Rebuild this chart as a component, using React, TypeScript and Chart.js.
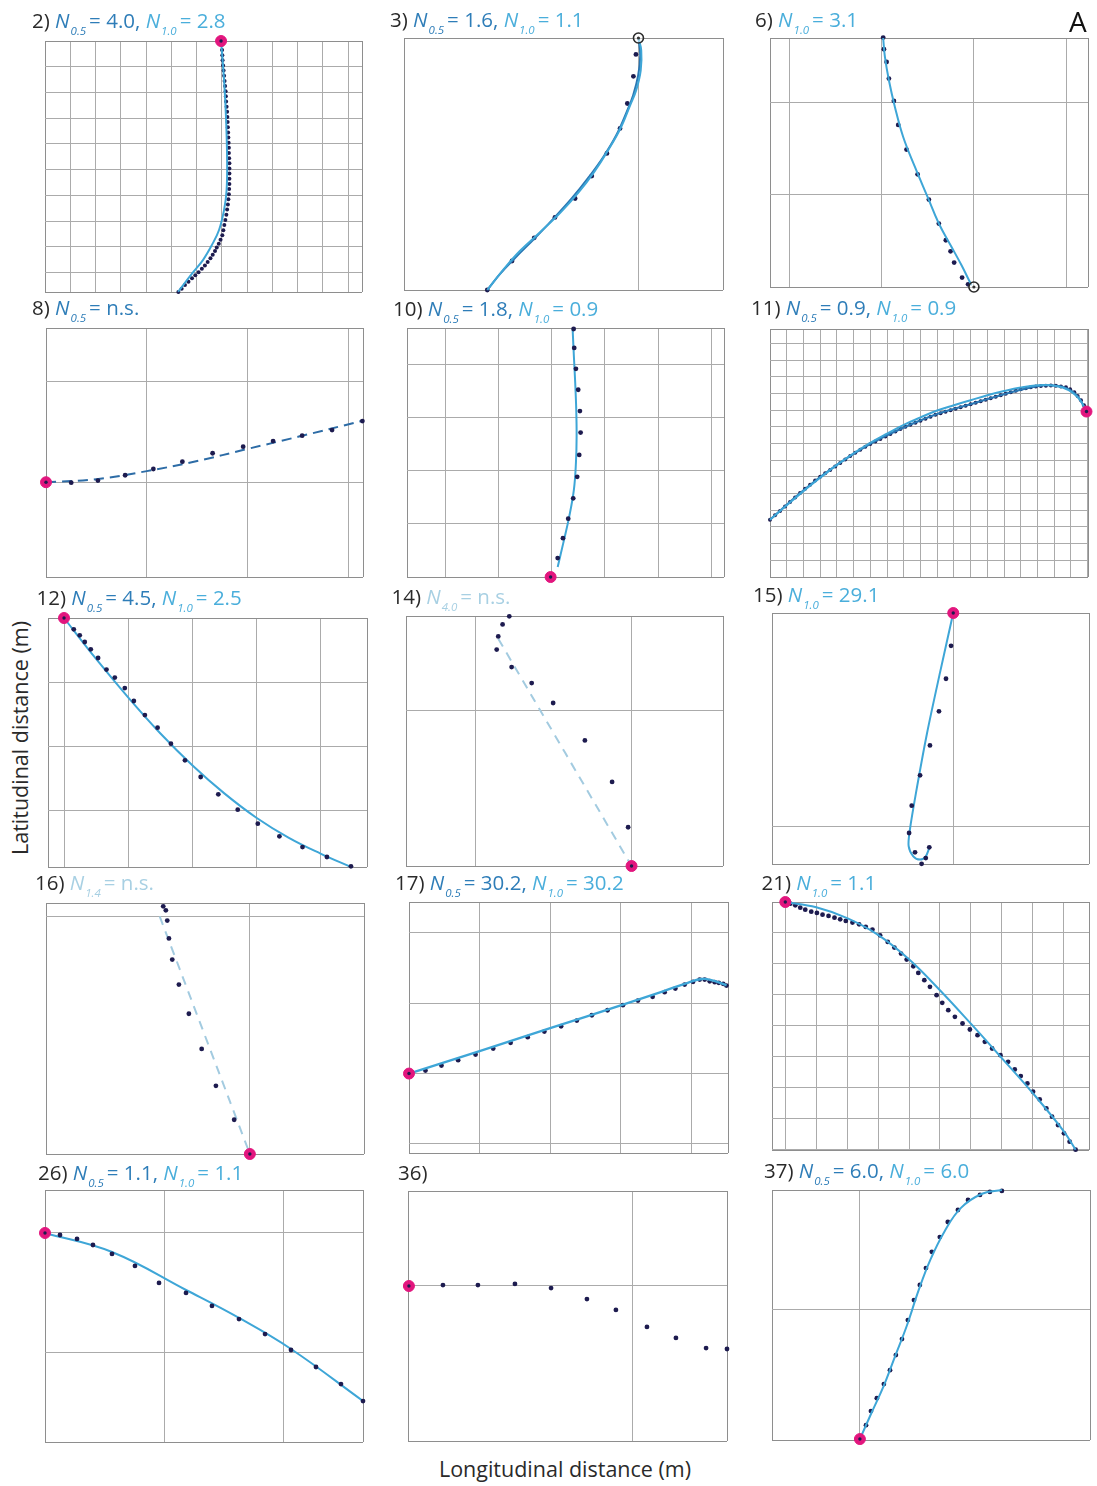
import React, { useEffect, useRef } from "react";
import { Chart, registerables } from "chart.js";

Chart.register(...registerables);

type Pt = [number, number];

// Observed positions (dots) and fitted paths for each trajectory, in grid units.
// Trajectory 2
const obs2: Pt[] = [
  [7.01, -0.15], [7.01, -0.35], [7.02, -0.55], [7.03, -0.75], [7.05, -0.95], [7.07, -1.15], [7.09, -1.35],
  [7.11, -1.55], [7.13, -1.75], [7.15, -1.95], [7.16, -2.15], [7.17, -2.35], [7.19, -2.55], [7.21, -2.75],
  [7.22, -2.95], [7.23, -3.15], [7.24, -3.35], [7.25, -3.55], [7.26, -3.75], [7.27, -3.95], [7.28, -4.15],
  [7.28, -4.35], [7.29, -4.55], [7.3, -4.75], [7.3, -4.95], [7.3, -5.15], [7.3, -5.35], [7.3, -5.55],
  [7.29, -5.75], [7.28, -5.95], [7.26, -6.15], [7.24, -6.35], [7.21, -6.55], [7.18, -6.75], [7.14, -6.95],
  [7.1, -7.15], [7.06, -7.35], [7.02, -7.55], [6.95, -7.72], [6.88, -7.88], [6.8, -8.02], [6.73, -8.16],
  [6.64, -8.3], [6.55, -8.44], [6.44, -8.58], [6.33, -8.72], [6.21, -8.85], [6.08, -8.98], [5.95, -9.1],
  [5.82, -9.22], [5.68, -9.35], [5.54, -9.48], [5.41, -9.62], [5.28, -9.75],
];
const fit2: Pt[] = [
  [6.97, 0], [7.09, -1.52], [7.17, -3.07], [7.21, -4.62], [7.19, -5.79], [7.09, -6.56], [6.89, -7.34],
  [6.61, -7.92], [6.26, -8.5], [5.82, -9.04], [5.27, -9.74],
];
const start2: Pt = [6.97, 0];

// Trajectory 3
const obs3: Pt[] = [
  [-0.01, -0.065], [-0.02, -0.152], [-0.044, -0.26], [-0.073, -0.359], [-0.125, -0.458], [-0.185, -0.548],
  [-0.251, -0.637], [-0.331, -0.712], [-0.413, -0.793], [-0.501, -0.885], [-0.599, -1.0],
];
const fit3Light: Pt[] = [
  [0, 0], [0.011, -0.049], [0.009, -0.128], [-0.009, -0.207], [-0.033, -0.267], [-0.069, -0.354],
  [-0.12, -0.445], [-0.176, -0.532], [-0.239, -0.615], [-0.311, -0.695], [-0.39, -0.771], [-0.47, -0.845],
  [-0.537, -0.921], [-0.599, -1.0],
];
const fit3Dark: Pt[] = [
  [0, 0], [0.007, -0.068], [-0.001, -0.148], [-0.021, -0.227], [-0.049, -0.299], [-0.088, -0.386],
  [-0.14, -0.473], [-0.2, -0.556], [-0.263, -0.635], [-0.335, -0.715], [-0.41, -0.794], [-0.489, -0.873],
  [-0.549, -0.937], [-0.599, -1.0],
];
const start3: Pt = [0, 0];

// Trajectory 6
const obs6: Pt[] = [
  [1.017, 2.705], [1.025, 2.578], [1.054, 2.44], [1.079, 2.26], [1.133, 2.017], [1.18, 1.757], [1.27, 1.49],
  [1.39, 1.222], [1.512, 0.948], [1.62, 0.688], [1.696, 0.507], [1.747, 0.387], [1.786, 0.265],
  [1.872, 0.102], [1.937, 0.029],
];
const fit6: Pt[] = [
  [1.017, 2.7], [1.036, 2.495], [1.079, 2.242], [1.144, 1.953], [1.234, 1.627], [1.361, 1.302],
  [1.498, 0.977], [1.62, 0.688], [1.758, 0.434], [1.866, 0.235], [1.974, 0.018],
];
const end6: Pt = [2.0, 0.0];

// Trajectory 8
const obs8: Pt[] = [
  [0.25, -0.004], [0.515, 0.016], [0.785, 0.069], [1.065, 0.131], [1.353, 0.204], [1.653, 0.287],
  [1.956, 0.352], [2.253, 0.408], [2.541, 0.461], [2.838, 0.517], [3.139, 0.606],
];
const fit8: Pt[] = [[0, 0], [0.5, 0.03], [1.0, 0.11], [1.5, 0.21], [2.0, 0.33], [2.5, 0.45], [3.145, 0.61]];
const start8: Pt = [0, 0];

// Trajectory 10
const obs10: Pt[] = [
  [0.113, 0.356], [0.212, 0.732], [0.311, 1.099], [0.405, 1.482], [0.48, 1.887], [0.518, 2.3],
  [0.544, 2.72], [0.531, 3.126], [0.499, 3.527], [0.456, 3.921], [0.424, 4.315], [0.413, 4.671],
];
const fit10: Pt[] = [
  [0.113, 0.188], [0.218, 0.638], [0.33, 1.137], [0.418, 1.645], [0.456, 2.146], [0.469, 2.647],
  [0.462, 3.148], [0.443, 3.648], [0.418, 4.148], [0.394, 4.671],
];
const start10: Pt = [-0.02, 0];

// Trajectory 11
const obs11: Pt[] = [
  [0.0, 3.43], [0.3, 3.7], [0.6, 3.96], [0.9, 4.23], [1.2, 4.5], [1.5, 4.77], [1.8, 5.04], [2.1, 5.29],
  [2.4, 5.53], [2.7, 5.78], [3.0, 6.01], [3.3, 6.22], [3.6, 6.42], [3.9, 6.63], [4.2, 6.84], [4.5, 7.05],
  [4.8, 7.26], [5.1, 7.45], [5.4, 7.63], [5.7, 7.81], [6.0, 7.98], [6.3, 8.13], [6.6, 8.28], [6.9, 8.43],
  [7.2, 8.58], [7.5, 8.73], [7.8, 8.88], [8.1, 9.01], [8.4, 9.13], [8.7, 9.25], [9.0, 9.37], [9.3, 9.49],
  [9.6, 9.61], [9.9, 9.73], [10.2, 9.82], [10.5, 9.91], [10.8, 10.0], [11.1, 10.09], [11.4, 10.18],
  [11.7, 10.27], [12.0, 10.36], [12.3, 10.45], [12.6, 10.54], [12.9, 10.63], [13.2, 10.72], [13.5, 10.81],
  [13.8, 10.9], [14.1, 10.99], [14.4, 11.08], [14.7, 11.17], [15.0, 11.25], [15.3, 11.31], [15.6, 11.37],
  [15.9, 11.42], [16.2, 11.45], [16.5, 11.47], [16.8, 11.48], [17.1, 11.47], [17.4, 11.42], [17.7, 11.37],
  [17.95, 11.25], [18.2, 11.08], [18.4, 10.85], [18.6, 10.6], [18.78, 10.3],
];
const fit11Light: Pt[] = [
  [0, 3.43], [1, 4.3], [2, 5.15], [3, 5.95], [4, 6.72], [5, 7.42], [6, 8.05], [7, 8.6], [8, 9.12],
  [9, 9.57], [10, 9.98], [11, 10.3], [12, 10.6], [13, 10.9], [14, 11.15], [15, 11.36], [16, 11.5],
  [16.8, 11.5], [17.5, 11.36], [18.1, 11.05], [18.55, 10.6], [18.93, 9.92],
];
const fit11Dark: Pt[] = [
  [0, 3.43], [2, 5.2], [4, 6.72], [6, 7.98], [8, 8.96], [10, 9.77], [12, 10.36], [14, 10.96], [16, 11.44],
  [17, 11.48], [17.8, 11.3], [18.4, 10.85], [18.93, 9.92],
];
const start11: Pt = [18.93, 9.92];

// Trajectory 12
const obs12: Pt[] = [
  [0.152, -0.177], [0.245, -0.27], [0.323, -0.375], [0.417, -0.489], [0.531, -0.625], [0.662, -0.806],
  [0.792, -0.931], [0.948, -1.094], [1.089, -1.297], [1.261, -1.516], [1.459, -1.713], [1.667, -1.963],
  [1.886, -2.223], [2.131, -2.484], [2.406, -2.755], [2.709, -2.994], [3.022, -3.213], [3.359, -3.411],
  [3.719, -3.578], [4.1, -3.734], [4.475, -3.88],
];
const fit12: Pt[] = [
  [0, 0], [0.5, -0.64], [1.0, -1.24], [1.5, -1.8], [2.0, -2.3], [2.5, -2.74], [3.0, -3.12], [3.5, -3.43],
  [4.0, -3.68], [4.475, -3.89],
];
const start12: Pt = [0, 0];

// Trajectory 14
const obs14: Pt[] = [
  [-0.786, 1.604], [-0.829, 1.552], [-0.857, 1.475], [-0.867, 1.39], [-0.771, 1.278], [-0.642, 1.175],
  [-0.504, 1.047], [-0.3, 0.807], [-0.125, 0.54], [-0.022, 0.249],
];
const fit14: Pt[] = [[-0.857, 1.46], [0, 0]];
const start14: Pt = [0, 0];

// Trajectory 15
const obs15: Pt[] = [
  [-0.01, 0.821], [-0.033, 0.671], [-0.065, 0.523], [-0.106, 0.368], [-0.151, 0.232], [-0.189, 0.094],
  [-0.201, -0.03], [-0.174, -0.118], [-0.144, -0.17], [-0.125, -0.144], [-0.109, -0.095],
];
const fit15: Pt[] = [
  [0, 0.97], [-0.06, 0.7], [-0.12, 0.42], [-0.17, 0.15], [-0.198, -0.02], [-0.203, -0.09], [-0.182, -0.136],
  [-0.151, -0.151], [-0.125, -0.136], [-0.109, -0.098],
];
const start15: Pt = [0, 0.97];

// Trajectory 16
const obs16: Pt[] = [
  [-0.365, 1.042], [-0.354, 1.025], [-0.348, 0.982], [-0.341, 0.907], [-0.327, 0.818], [-0.299, 0.713],
  [-0.257, 0.59], [-0.203, 0.442], [-0.143, 0.287], [-0.066, 0.144],
];
const fit16: Pt[] = [[-0.38, 1.0], [0, 0]];
const start16: Pt = [0, 0];

// Trajectory 17
const obs17: Pt[] = [
  [0.233, 0.043], [0.46, 0.114], [0.696, 0.19], [0.943, 0.27], [1.193, 0.356], [1.44, 0.437],
  [1.682, 0.517], [1.918, 0.597], [2.155, 0.673], [2.378, 0.754], [2.591, 0.829], [2.813, 0.9],
  [3.031, 0.972], [3.244, 1.038], [3.452, 1.091], [3.622, 1.157], [3.774, 1.209], [3.906, 1.266],
  [4.025, 1.304], [4.119, 1.337], [4.19, 1.337], [4.261, 1.313], [4.332, 1.299], [4.389, 1.29],
  [4.452, 1.276], [4.498, 1.252],
];
const fit17: Pt[] = [
  [0, 0], [1, 0.32], [2, 0.645], [3, 0.97], [3.6, 1.17], [3.95, 1.29], [4.15, 1.345], [4.3, 1.325], [4.5, 1.255],
];
const start17: Pt = [0, 0];

// Trajectory 21
const obs21: Pt[] = [
  [0.161, -0.054], [0.323, -0.107], [0.484, -0.182], [0.645, -0.247], [0.839, -0.311], [1.022, -0.354],
  [1.204, -0.408], [1.398, -0.451], [1.591, -0.505], [1.774, -0.559], [1.957, -0.612], [2.172, -0.666],
  [2.387, -0.72], [2.602, -0.806], [2.817, -0.892], [3.065, -1.075], [3.312, -1.29], [3.527, -1.473],
  [3.742, -1.666], [3.925, -1.86], [4.14, -2.075], [4.301, -2.29], [4.495, -2.526], [4.677, -2.741],
  [4.892, -3.01], [5.075, -3.257], [5.269, -3.494], [5.484, -3.709], [5.731, -3.924], [5.968, -4.118],
  [6.215, -4.3], [6.452, -4.516], [6.688, -4.731], [6.957, -4.946], [7.204, -5.161], [7.419, -5.407],
  [7.613, -5.623], [7.828, -5.859], [8.011, -6.129], [8.226, -6.375], [8.441, -6.666], [8.624, -6.935],
  [8.817, -7.204], [9.011, -7.472], [9.194, -7.741], [9.387, -8.0],
];
const fit21: Pt[] = [
  [0, 0], [1, -0.17], [2, -0.52], [3, -1.06], [4, -1.85], [5, -2.85], [6, -3.93], [7, -5.04], [8, -6.17],
  [9, -7.4], [9.387, -8.0],
];
const start21: Pt = [0, 0];

// Trajectory 26
const obs26: Pt[] = [
  [0.126, -0.017], [0.269, -0.05], [0.403, -0.101], [0.563, -0.176], [0.756, -0.277], [0.958, -0.42],
  [1.185, -0.504], [1.403, -0.613], [1.63, -0.723], [1.849, -0.849], [2.067, -0.983], [2.277, -1.126],
  [2.487, -1.269], [2.672, -1.412],
];
const fit26: Pt[] = [
  [0, 0], [0.563, -0.16], [1.185, -0.479], [1.63, -0.714], [2.067, -0.975], [2.672, -1.412],
];
const start26: Pt = [0, 0];

// Trajectory 36
const obs36: Pt[] = [
  [-0.822, 0.004], [-0.67, 0.004], [-0.509, 0.009], [-0.352, -0.009], [-0.196, -0.057], [-0.07, -0.104],
  [0.065, -0.178], [0.191, -0.226], [0.322, -0.27], [0.413, -0.274],
];
const start36: Pt = [-0.97, 0];

// Trajectory 37
const obs37: Pt[] = [
  [0.026, -0.494], [0.047, -0.434], [0.072, -0.379], [0.102, -0.319], [0.128, -0.26], [0.153, -0.196],
  [0.179, -0.128], [0.204, -0.047], [0.23, 0.038], [0.255, 0.102], [0.281, 0.174], [0.306, 0.243],
  [0.34, 0.306], [0.374, 0.37], [0.417, 0.421], [0.46, 0.464], [0.511, 0.485], [0.553, 0.498], [0.604, 0.502],
];
const fit37: Pt[] = [
  [0, -0.553], [0.05, -0.44], [0.1, -0.33], [0.15, -0.2], [0.2, -0.07], [0.25, 0.08], [0.3, 0.21],
  [0.36, 0.33], [0.43, 0.43], [0.52, 0.49], [0.604, 0.506],
];
const start37: Pt = [0, -0.553];

// ---- styling ----
const DOT = "#1d1b4f";
const FIT_LIGHT = "#3ea6d7";
const FIT_DARK = "#2a77b3";
const FIT_MID_DASH = "#2d6ca6";
const FIT_PALE = "#a3cbe0";
const PINK = "#e2167e";
const GRID = "#ababab";
const FRAME = "#8e8e8e";
const TXT = "#2a2a2a";
const C05 = "#2e7db8";
const C10 = "#4aaedb";
const CPALE = "#a8d0e3";
const FONT = '"Open Sans", "Noto Sans", sans-serif';
const PAD = 10;

interface Curve { pts: Pt[]; color: string; width?: number; dash?: number[]; tension?: number }
interface Term { sub: string; val: string; color: string }
interface PanelCfg {
  box: [number, number, number, number];
  x: [number, number];
  y: [number, number];
  obs: Pt[];
  dotR?: number;
  curves: Curve[];
  marker: Pt;
  ring?: boolean;
  curvesOnTop?: boolean;
  title: { num: string; x: number; base: number; terms: Term[] };
}

const panels: PanelCfg[] = [
  {
    box: [45, 40.7, 362, 292], x: [0, 12.55], y: [-9.75, 0], obs: obs2, dotR: 2,
    curves: [{ pts: fit2, color: FIT_LIGHT }], marker: start2, curvesOnTop: true,
    title: { num: "2)", x: 32, base: 28, terms: [{ sub: "0.5", val: "4.0", color: C05 }, { sub: "1.0", val: "2.8", color: C10 }] },
  },
  {
    box: [404.3, 37.7, 722.7, 290], x: [-0.929, 0.335], y: [-1.0, 0], obs: obs3,
    curves: [{ pts: fit3Light, color: FIT_LIGHT }, { pts: fit3Dark, color: FIT_DARK }], marker: start3, ring: true, curvesOnTop: true,
    title: { num: "3)", x: 390, base: 27.5, terms: [{ sub: "0.5", val: "1.6", color: C05 }, { sub: "1.0", val: "1.1", color: C10 }] },
  },
  {
    box: [770, 37.7, 1088.3, 286.7], x: [-0.209, 3.236], y: [0, 2.7], obs: obs6,
    curves: [{ pts: fit6, color: FIT_LIGHT }], marker: end6, ring: true, curvesOnTop: true,
    title: { num: "6)", x: 755, base: 27, terms: [{ sub: "1.0", val: "3.1", color: C10 }] },
  },
  {
    box: [45.7, 327.7, 363.3, 577.3], x: [0, 3.145], y: [-0.939, 1.528], obs: obs8,
    curves: [{ pts: fit8, color: FIT_MID_DASH, dash: [10, 6] }], marker: start8,
    title: { num: "8)", x: 32, base: 315, terms: [{ sub: "0.5", val: "n.s.", color: C05 }] },
  },
  {
    box: [406.7, 327.7, 724.3, 577.3], x: [-2.72, 3.24], y: [0, 4.69], obs: obs10,
    curves: [{ pts: fit10, color: FIT_LIGHT }], marker: start10,
    title: { num: "10)", x: 393, base: 316, terms: [{ sub: "0.5", val: "1.8", color: C05 }, { sub: "1.0", val: "0.9", color: C10 }] },
  },
  {
    box: [770, 329, 1087.7, 577.3], x: [0, 19.02], y: [0, 14.87], obs: obs11, dotR: 2,
    curves: [{ pts: fit11Light, color: FIT_LIGHT }, { pts: fit11Dark, color: FIT_DARK }], marker: start11, curvesOnTop: true,
    title: { num: "11)", x: 751, base: 315, terms: [{ sub: "0.5", val: "0.9", color: C05 }, { sub: "1.0", val: "0.9", color: C10 }] },
  },
  {
    box: [48.3, 617.7, 366.7, 866.7], x: [-0.25, 4.725], y: [-3.89, 0], obs: obs12,
    curves: [{ pts: fit12, color: FIT_LIGHT }], marker: start12,
    title: { num: "12)", x: 36.5, base: 605, terms: [{ sub: "0.5", val: "4.5", color: C05 }, { sub: "1.0", val: "2.5", color: C10 }] },
  },
  {
    box: [406, 615.7, 723.3, 865.7], x: [-1.45, 0.588], y: [0, 1.606], obs: obs14,
    curves: [{ pts: fit14, color: FIT_PALE, dash: [9, 7] }], marker: start14,
    title: { num: "14)", x: 391.5, base: 604, terms: [{ sub: "4.0", val: "n.s.", color: CPALE }] },
  },
  {
    box: [771.7, 613.3, 1089.3, 864.3], x: [-0.825, 0.618], y: [-0.171, 0.97], obs: obs15,
    curves: [{ pts: fit15, color: FIT_LIGHT, tension: 0.3 }], marker: start15,
    title: { num: "15)", x: 753, base: 602, terms: [{ sub: "1.0", val: "29.1", color: C10 }] },
  },
  {
    box: [46, 903.3, 364.3, 1154.3], x: [-0.859, 0.481], y: [0, 1.056], obs: obs16,
    curves: [{ pts: fit16, color: FIT_PALE, dash: [9, 7] }], marker: start16,
    title: { num: "16)", x: 35, base: 890.5, terms: [{ sub: "1.4", val: "n.s.", color: CPALE }] },
  },
  {
    box: [409.3, 902.3, 727.7, 1153.3], x: [0, 4.52], y: [-1.13, 2.44], obs: obs17,
    curves: [{ pts: fit17, color: FIT_LIGHT, width: 2.4 }], marker: start17, curvesOnTop: true,
    title: { num: "17)", x: 395, base: 890, terms: [{ sub: "0.5", val: "30.2", color: C05 }, { sub: "1.0", val: "30.2", color: C10 }] },
  },
  {
    box: [771.7, 901.7, 1089.3, 1150], x: [-0.43, 9.82], y: [-8.01, 0], obs: obs21,
    curves: [{ pts: fit21, color: FIT_LIGHT }], marker: start21, curvesOnTop: true,
    title: { num: "21)", x: 761.5, base: 890, terms: [{ sub: "1.0", val: "1.1", color: C10 }] },
  },
  {
    box: [45, 1190, 363, 1442], x: [0, 2.672], y: [-1.756, 0.361], obs: obs26,
    curves: [{ pts: fit26, color: FIT_LIGHT }], marker: start26,
    title: { num: "26)", x: 38, base: 1180, terms: [{ sub: "0.5", val: "1.1", color: C05 }, { sub: "1.0", val: "1.1", color: C10 }] },
  },
  {
    box: [408, 1191, 727, 1441], x: [-0.974, 0.413], y: [-0.674, 0.413], obs: obs36,
    curves: [], marker: start36,
    title: { num: "36)", x: 398, base: 1180, terms: [] },
  },
  {
    box: [772, 1190, 1090, 1440], x: [-0.374, 0.979], y: [-0.557, 0.506], obs: obs37,
    curves: [{ pts: fit37, color: FIT_LIGHT }], marker: start37, curvesOnTop: true,
    title: { num: "37)", x: 764, base: 1178, terms: [{ sub: "0.5", val: "6.0", color: C05 }, { sub: "1.0", val: "6.0", color: C10 }] },
  },
];

const xy = (pts: Pt[]) => pts.map(([x, y]) => ({ x, y }));

// Grid lines at whole grid units plus the two frame edges.
function gridTicks(min: number, max: number) {
  const out = [{ value: min }];
  for (let k = Math.ceil(min); k <= Math.floor(max); k++) {
    if (k - min > 1e-3 && max - k > 1e-3) out.push({ value: k });
  }
  out.push({ value: max });
  return out;
}

function axis(min: number, max: number) {
  return {
    type: "linear" as const,
    min,
    max,
    ticks: { display: false },
    border: { display: false },
    grid: {
      drawTicks: false,
      lineWidth: 1,
      color: (c: any) => (c.tick && (c.tick.value === min || c.tick.value === max) ? FRAME : GRID),
    },
    afterBuildTicks: (scale: any) => {
      scale.ticks = gridTicks(min, max);
    },
  };
}

function TrackPanel({ cfg }: { cfg: PanelCfg }) {
  const ref = useRef<HTMLCanvasElement | null>(null);
  const [l, t, r, b] = cfg.box;
  const left = Math.round(l) - PAD;
  const top = Math.round(t) - PAD;
  const w = Math.round(r) - Math.round(l) + 2 * PAD;
  const h = Math.round(b) - Math.round(t) + 2 * PAD;

  useEffect(() => {
    const canvas = ref.current;
    if (!canvas) return;

    const markerSets: any[] = cfg.ring
      ? [
          { data: xy([cfg.marker]), pointRadius: 1.6, pointBackgroundColor: "#333", pointBorderWidth: 0, clip: false },
          {
            data: xy([cfg.marker]), pointRadius: 5, pointBackgroundColor: "rgba(255,255,255,0.5)",
            pointBorderColor: "#2a2a2a", pointBorderWidth: 1.6, clip: false,
          },
        ]
      : [
          { data: xy([cfg.marker]), pointRadius: 1.7, pointBackgroundColor: DOT, pointBorderWidth: 0, clip: false },
          {
            data: xy([cfg.marker]), pointRadius: 5.5, pointBackgroundColor: PINK,
            pointBorderColor: PINK, pointBorderWidth: 1, clip: false,
          },
        ];

    const dotSet = {
      data: xy(cfg.obs), pointRadius: cfg.dotR ?? 2.4, pointBackgroundColor: DOT,
      pointBorderWidth: 0, clip: false,
    };

    const curveSets = cfg.curves.map((c) => ({
      data: xy(c.pts), showLine: true, pointRadius: 0, borderColor: c.color,
      borderWidth: c.width ?? 2, borderDash: c.dash ?? [], tension: c.tension ?? 0.4,
      fill: false, clip: false,
    }));

    // Earlier datasets are painted on top.
    const datasets = cfg.curvesOnTop
      ? [...markerSets, ...curveSets, dotSet]
      : [...markerSets, dotSet, ...curveSets];

    const chart = new Chart(canvas, {
      type: "scatter",
      data: { datasets },
      options: {
        animation: false,
        responsive: false,
        maintainAspectRatio: false,
        devicePixelRatio: 1,
        events: [],
        layout: { padding: PAD },
        plugins: { legend: { display: false }, tooltip: { enabled: false } },
        scales: { x: axis(cfg.x[0], cfg.x[1]), y: axis(cfg.y[0], cfg.y[1]) },
      } as any,
    });
    return () => chart.destroy();
  }, [cfg]);

  return (
    <canvas
      ref={ref}
      width={w}
      height={h}
      style={{ position: "absolute", left, top, width: w, height: h }}
    />
  );
}

function PanelTitle({ t }: { t: PanelCfg["title"] }) {
  return (
    <div
      style={{
        position: "absolute", left: t.x, top: t.base - 18.3, fontFamily: FONT, fontSize: 20.5,
        lineHeight: "20.5px", color: TXT, whiteSpace: "nowrap",
      }}
    >
      {t.num}
      {t.terms.length ? " " : ""}
      {t.terms.map((term, i) => (
        <span key={i} style={{ color: term.color }}>
          <span style={{ fontStyle: "italic" }}>N</span>
          <span
            style={{
              fontSize: 11.5, fontStyle: "italic", position: "relative", top: 7,
              marginLeft: 1, marginRight: 3,
            }}
          >
            {term.sub}
          </span>
          {"= " + term.val + (i < t.terms.length - 1 ? ", " : "")}
        </span>
      ))}
    </div>
  );
}

export default function App() {
  return (
    <div
      style={{
        position: "absolute", left: 0, top: 0, width: 1097, height: 1486,
        background: "#ffffff", overflow: "hidden",
      }}
    >
      {panels.map((p, i) => (
        <React.Fragment key={i}>
          <TrackPanel cfg={p} />
          <PanelTitle t={p.title} />
        </React.Fragment>
      ))}
      <div
        style={{
          position: "absolute", left: 1069, top: 7, fontFamily: FONT, fontSize: 28,
          lineHeight: "28px", color: "#111",
        }}
      >
        A
      </div>
      <div
        style={{
          position: "absolute", left: 20, top: 738, transform: "translate(-50%, -50%) rotate(-90deg)",
          fontFamily: FONT, fontSize: 21.5, lineHeight: "21.5px", color: TXT, whiteSpace: "nowrap",
        }}
      >
        Latitudinal distance (m)
      </div>
      <div
        style={{
          position: "absolute", left: 565, top: 1458, transform: "translateX(-50%)",
          fontFamily: FONT, fontSize: 21.5, lineHeight: "21.5px", color: TXT, whiteSpace: "nowrap",
        }}
      >
        Longitudinal distance (m)
      </div>
    </div>
  );
}
